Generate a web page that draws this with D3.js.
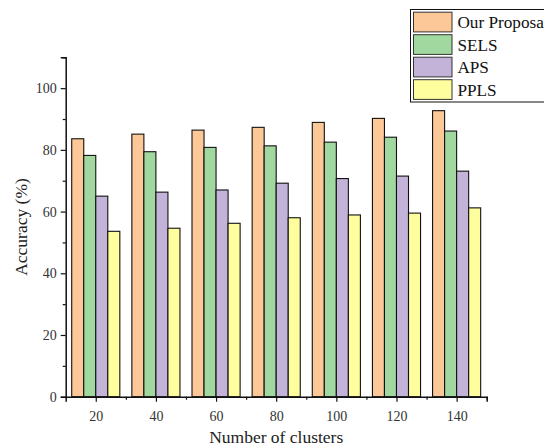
<!DOCTYPE html>
<html>
<head>
<meta charset="utf-8">
<script src="https://cdn.jsdelivr.net/npm/d3@7"></script>
<style>
  html, body { margin: 0; padding: 0; background: #fff; overflow: hidden; }
  svg { display: block; }
  text { font-family: "Liberation Serif", "Times New Roman", serif; }
</style>
</head>
<body>
<svg id="chart" width="544" height="448"></svg>
<script>
// Number of clusters on the x axis
const clusters = [20, 40, 60, 80, 100, 120, 140];
const seriesNames = ["Our Proposal", "SELS", "APS", "PPLS"];
const seriesColors = ["#fcc897", "#a0d89f", "#c3b3d8", "#fefe9f"];
// Accuracy (%) for each method
const ourProposal = [83.6, 85.1, 86.4, 87.3, 88.9, 90.2, 92.7];
const sels        = [78.2, 79.4, 80.8, 81.3, 82.5, 84.1, 86.1];
const aps         = [65.0, 66.3, 67.0, 69.2, 70.7, 71.5, 73.1];
const ppls        = [53.6, 54.6, 56.2, 58.0, 58.9, 59.5, 61.2];
const seriesValues = [ourProposal, sels, aps, ppls];
const yMajorTicks = [0, 20, 40, 60, 80, 100];
const yMinorTicks = [10, 30, 50, 70, 90, 110];
const xMajorTicks = [20, 40, 60, 80, 100, 120, 140];
const xMinorTicks = [30, 50, 70, 90, 110, 130, 150];

const svg = d3.select("#chart");
const plotLeft = 65.7, plotRight = 486.7, plotTop = 57.3, plotBottom = 396.7;

const x = d3.scaleLinear().domain([10, 150]).range([plotLeft, plotRight]);
const y = d3.scaleLinear().domain([0, 110]).range([plotBottom, plotTop]);

// each bar spans 4 x-units; four bars per group centred on the cluster count
const barUnits = 4;
const barW = x(barUnits) - x(0);

const bars = svg.append("g");
seriesValues.forEach((vals, si) => {
  bars.selectAll(null)
    .data(vals.map((v, i) => ({ c: clusters[i], v })))
    .join("rect")
    .attr("x", d => x(d.c - 2 * barUnits + si * barUnits))
    .attr("y", d => y(d.v))
    .attr("width", barW)
    .attr("height", d => y(0) - y(d.v))
    .attr("fill", seriesColors[si])
    .attr("stroke", "#111")
    .attr("stroke-width", 1.1);
});

// Axes
const fontTick = 14;
const yAxis = svg.append("g").attr("transform", `translate(${plotLeft},0)`)
  .call(d3.axisLeft(y).tickValues(yMajorTicks).tickSize(5).tickPadding(4).tickFormat(d3.format("d")));
const yMinor = svg.append("g").attr("transform", `translate(${plotLeft},0)`)
  .call(d3.axisLeft(y).tickValues(yMinorTicks).tickSize(3).tickFormat(""));
const xAxis = svg.append("g").attr("transform", `translate(0,${plotBottom})`)
  .call(d3.axisBottom(x).tickValues(xMajorTicks).tickSize(5).tickPadding(9).tickFormat(d3.format("d")));
const xMinor = svg.append("g").attr("transform", `translate(0,${plotBottom})`)
  .call(d3.axisBottom(x).tickValues(xMinorTicks).tickSize(3).tickFormat(""));

[yAxis, yMinor, xAxis, xMinor].forEach(g => {
  g.selectAll(".domain").attr("stroke", "#111").attr("stroke-width", 1.5);
  g.selectAll(".tick line").attr("stroke", "#111").attr("stroke-width", 1.2);
  g.selectAll("text")
    .attr("font-family", '"Liberation Serif", "Times New Roman", serif')
    .attr("font-size", fontTick)
    .attr("fill", "#333");
});
yMinor.select(".domain").remove();
xMinor.select(".domain").remove();

// Axis titles
svg.append("text")
  .attr("x", (plotLeft + plotRight) / 2)
  .attr("y", 443)
  .attr("text-anchor", "middle")
  .attr("font-size", 17.5)
  .attr("fill", "#222")
  .text("Number of clusters");

svg.append("text")
  .attr("transform", `translate(27,${(plotTop + plotBottom) / 2}) rotate(-90)`)
  .attr("text-anchor", "middle")
  .attr("font-size", 17.5)
  .attr("fill", "#222")
  .text("Accuracy (%)");

// Legend (runs off the right edge of the canvas)
const legend = svg.append("g");
legend.append("rect")
  .attr("x", 410.5).attr("y", 9.5)
  .attr("width", 180).attr("height", 92.5)
  .attr("fill", "#fff")
  .attr("stroke", "#111").attr("stroke-width", 1);
seriesNames.forEach((name, i) => {
  const ry = 12.2 + i * 22.5;
  legend.append("rect")
    .attr("x", 413.5).attr("y", ry)
    .attr("width", 38.5).attr("height", 19.7)
    .attr("fill", seriesColors[i])
    .attr("stroke", "#333").attr("stroke-width", 1);
  legend.append("text")
    .attr("x", 457.4).attr("y", ry + 16)
    .attr("font-size", 17.2)
    .attr("fill", "#111")
    .text(name);
});
</script>
</body>
</html>
